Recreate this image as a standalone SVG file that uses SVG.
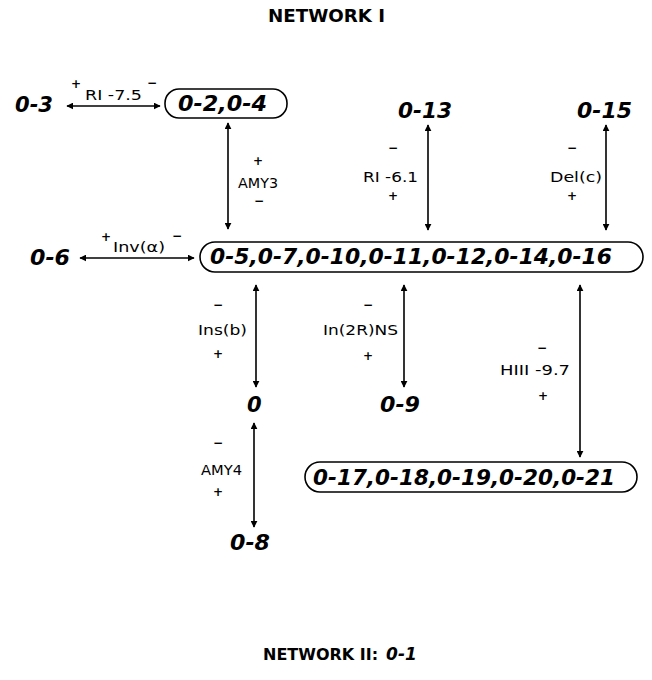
<svg xmlns="http://www.w3.org/2000/svg" width="652" height="680" viewBox="0 0 652 680">
<style>
.title{font-family:"DejaVu Sans","Liberation Sans",sans-serif;font-weight:bold;font-size:17px;fill:#000}
.num{font-family:"DejaVu Sans","Liberation Sans",sans-serif;font-weight:bold;font-style:italic;font-size:21px;fill:#000}
.lbl{font-family:"DejaVu Sans","Liberation Sans",sans-serif;font-size:14px;fill:#000}
.sg{font-family:"DejaVu Sans","Liberation Sans",sans-serif;font-size:12px;font-weight:bold;fill:#000;text-anchor:middle}
.box{fill:none;stroke:#000;stroke-width:1.6}
.ln{fill:none;stroke:#000;stroke-width:1.6;marker-start:url(#ah);marker-end:url(#ah)}
</style>
<defs>
<marker id="ah" viewBox="0 0 10 10" refX="9" refY="5" markerWidth="7" markerHeight="7" markerUnits="userSpaceOnUse" orient="auto-start-reverse">
<path d="M0,0 L10,5 L0,10 z" fill="#000"/>
</marker>
</defs>
<rect width="652" height="680" fill="#fff"/>
<text class="title" x="268" y="22" textLength="117" lengthAdjust="spacingAndGlyphs">NETWORK I</text>

<g id="n03"><text class="num" x="15" y="112" textLength="38" lengthAdjust="spacingAndGlyphs">0-3</text></g>
<g id="n02"><rect class="box" x="165" y="89" width="122" height="29" rx="14"/><text class="num" x="178" y="111" textLength="89" lengthAdjust="spacingAndGlyphs">0-2,0-4</text></g>
<g id="n13"><text class="num" x="398" y="118" textLength="54" lengthAdjust="spacingAndGlyphs">0-13</text></g>
<g id="n15"><text class="num" x="577" y="118" textLength="55" lengthAdjust="spacingAndGlyphs">0-15</text></g>
<g id="n06"><text class="num" x="30" y="265" textLength="40" lengthAdjust="spacingAndGlyphs">0-6</text></g>
<g id="nmain"><rect class="box" x="200" y="242" width="443" height="30" rx="15"/><text class="num" x="210" y="264" textLength="402" lengthAdjust="spacingAndGlyphs">0-5,0-7,0-10,0-11,0-12,0-14,0-16</text></g>
<g id="n0"><text class="num" x="247" y="412">0</text></g>
<g id="n09"><text class="num" x="380" y="412" textLength="40" lengthAdjust="spacingAndGlyphs">0-9</text></g>
<g id="n17"><rect class="box" x="305" y="462" width="332" height="30" rx="15"/><text class="num" x="313" y="485" textLength="302" lengthAdjust="spacingAndGlyphs">0-17,0-18,0-19,0-20,0-21</text></g>
<g id="n08"><text class="num" x="230" y="550" textLength="40" lengthAdjust="spacingAndGlyphs">0-8</text></g>

<g id="connectors">
<line class="ln" x1="67" y1="106" x2="160" y2="106"/>
<line class="ln" x1="228" y1="123" x2="228" y2="229"/>
<line class="ln" x1="428" y1="125" x2="428" y2="230"/>
<line class="ln" x1="606" y1="125" x2="606" y2="230"/>
<line class="ln" x1="80" y1="258" x2="194" y2="258"/>
<line class="ln" x1="256" y1="285" x2="256" y2="387"/>
<line class="ln" x1="404" y1="285" x2="404" y2="387"/>
<line class="ln" x1="580" y1="285" x2="580" y2="457"/>
<line class="ln" x1="254" y1="423" x2="254" y2="527"/>
</g>

<g id="labels">
<text class="sg" x="76" y="88">+</text><text class="lbl" x="85" y="100" textLength="57" lengthAdjust="spacingAndGlyphs">RI  -7.5</text><text class="sg" x="152" y="87">−</text>
<text class="sg" x="258" y="165">+</text><text class="lbl" x="238" y="188" textLength="40" lengthAdjust="spacingAndGlyphs">AMY3</text><text class="sg" x="259" y="205">−</text>
<text class="sg" x="393" y="152">−</text><text class="lbl" x="363" y="182" textLength="55" lengthAdjust="spacingAndGlyphs">RI  -6.1</text><text class="sg" x="393" y="200">+</text>
<text class="sg" x="572" y="152">−</text><text class="lbl" x="550" y="182" textLength="52" lengthAdjust="spacingAndGlyphs">Del(c)</text><text class="sg" x="572" y="200">+</text>
<text class="sg" x="106" y="241">+</text><text class="lbl" x="113" y="252" textLength="52" lengthAdjust="spacingAndGlyphs">Inv(α)</text><text class="sg" x="177" y="240">−</text>
<text class="sg" x="218" y="309">−</text><text class="lbl" x="198" y="335" textLength="49" lengthAdjust="spacingAndGlyphs">Ins(b)</text><text class="sg" x="218" y="358">+</text>
<text class="sg" x="368" y="309">−</text><text class="lbl" x="323" y="335" textLength="75" lengthAdjust="spacingAndGlyphs">In(2R)NS</text><text class="sg" x="368" y="360">+</text>
<text class="sg" x="542" y="352">−</text><text class="lbl" x="500" y="375" textLength="70" lengthAdjust="spacingAndGlyphs">HIII  -9.7</text><text class="sg" x="543" y="400">+</text>
<text class="sg" x="218" y="447">−</text><text class="lbl" x="201" y="475" textLength="41" lengthAdjust="spacingAndGlyphs">AMY4</text><text class="sg" x="218" y="496">+</text>
</g>

<text class="title" x="263" y="660" style="font-size:16px">NETWORK II:<tspan class="num" style="font-size:17px" dx="8">0-1</tspan></text>
</svg>
